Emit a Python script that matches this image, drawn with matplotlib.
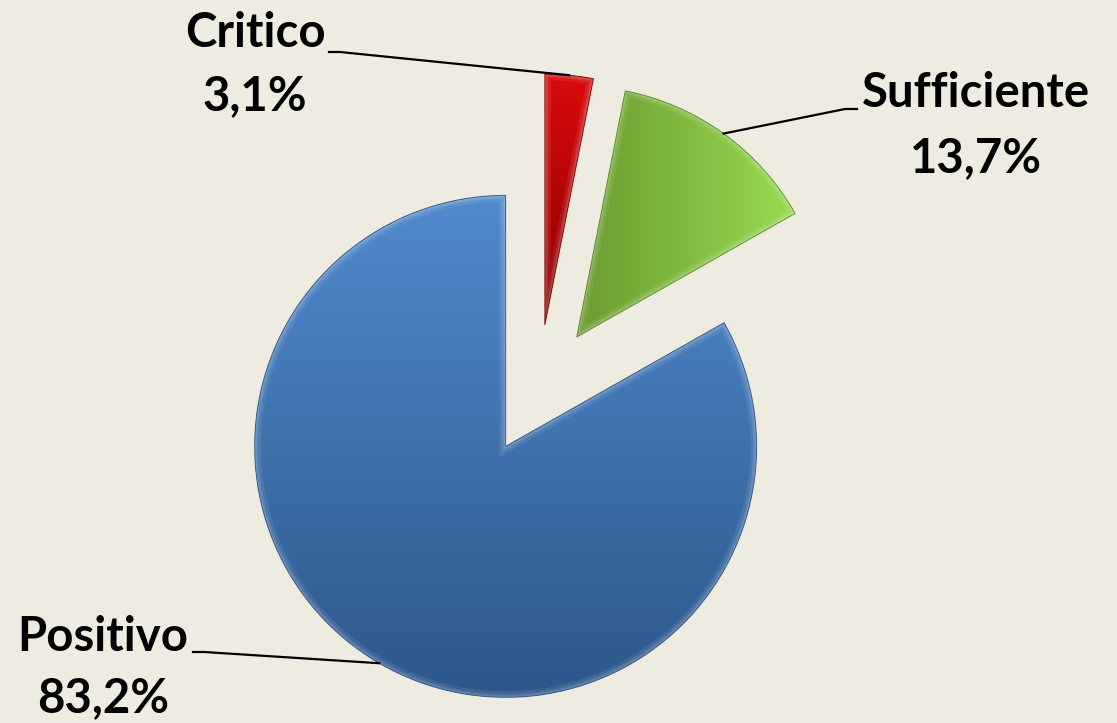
import numpy as np
import matplotlib
matplotlib.use('Agg')
import matplotlib.pyplot as plt
from matplotlib.colors import LinearSegmentedColormap
from matplotlib.patches import PathPatch

# data
labels = ['Critico', 'Sufficiente', 'Positivo']
values = [3.1, 13.7, 83.2]

# gradient colours per slice: (start, end, horizontal?)
grad_colors = [('#8a0000', '#da0a0c', False),
               ('#6a9b2f', '#97db50', True),
               ('#2d578b', '#518bce', False)]
edge_colors = ['#6e0000', '#557f24', '#284e7c']

bg = '#eeece1'
W, H = 1117, 723
CX, CY, R = 538.5, 390, 251  # pie centre / radius in pixels


def px(x, y):
    # pixel position (from top-left) -> data coords
    return (x - CX) / R, (CY - y) / R


fig = plt.figure(figsize=(W / 100, H / 100), dpi=100)
fig.patch.set_facecolor(bg)
ax = fig.add_axes([0, 0, 1, 1])
ax.set_facecolor(bg)

wedges, _ = ax.pie(values, startangle=90, counterclock=False,
                   explode=[0.26] * len(values), radius=1.0,
                   colors=[c[1] for c in grad_colors],
                   wedgeprops=dict(linewidth=0))

# gradient fill + soft bevel highlight
for w, (c0, c1, horiz), ec in zip(wedges, grad_colors, edge_colors):
    bb = w.get_path().get_extents()
    t = np.linspace(0, 1, 256)
    if horiz:
        arr = np.tile(t, (2, 1))
    else:
        arr = np.tile(t[:, None], (1, 2))
    cmap = LinearSegmentedColormap.from_list('g', [c0, c1])
    z = w.get_zorder()
    im = ax.imshow(arr, cmap=cmap, origin='lower', aspect='auto',
                   extent=[bb.x0, bb.x1, bb.y0, bb.y1],
                   interpolation='bilinear', zorder=z + 0.1)
    im.set_clip_path(w)
    for lw, a in [(9, 0.08), (5, 0.1), (2.5, 0.12)]:
        hl = PathPatch(w.get_path(), fill=False, edgecolor='white', alpha=a,
                       linewidth=lw, zorder=z + 0.2)
        ax.add_patch(hl)
        hl.set_clip_path(w)
    ol = PathPatch(w.get_path(), fill=False, edgecolor=ec, linewidth=0.7,
                   alpha=0.8, zorder=z + 0.3)
    ax.add_patch(ol)

ax.set_xlim(px(0, 0)[0], px(W, 0)[0])
ax.set_ylim(px(0, H)[1], px(0, 0)[1])
ax.set_aspect('auto')
ax.axis('off')

# labels: (centre x, baseline line1, baseline line2) and leader start
label_pos = [(255, 47, 110), (976, 107, 172), (103, 651, 712)]
leader_start = [(329, 52, 11), (857, 109, -12), (193, 652, 11)]

font = dict(family=['Lato', 'DejaVu Sans'], weight='bold', size=34,
            color='black')

for w, name, val, (lx, b1, b2), (sx, sy, dx) in zip(
        wedges, labels, values, label_pos, leader_start):
    ax.text(*px(lx, b1), name, ha='center', va='baseline', **font)
    ax.text(*px(lx, b2), f'{val:.1f}%'.replace('.', ','), ha='center',
            va='baseline', **font)
    mid = np.deg2rad((w.theta1 + w.theta2) / 2)
    ex = w.center[0] + w.r * np.cos(mid)
    ey = w.center[1] + w.r * np.sin(mid)
    p0 = px(sx, sy)
    p1 = px(sx + dx, sy)
    ax.plot([p0[0], p1[0], ex], [p0[1], p1[1], ey], color='black',
            linewidth=1.6, zorder=10)

plt.savefig('out.png', dpi=100, facecolor=bg)
